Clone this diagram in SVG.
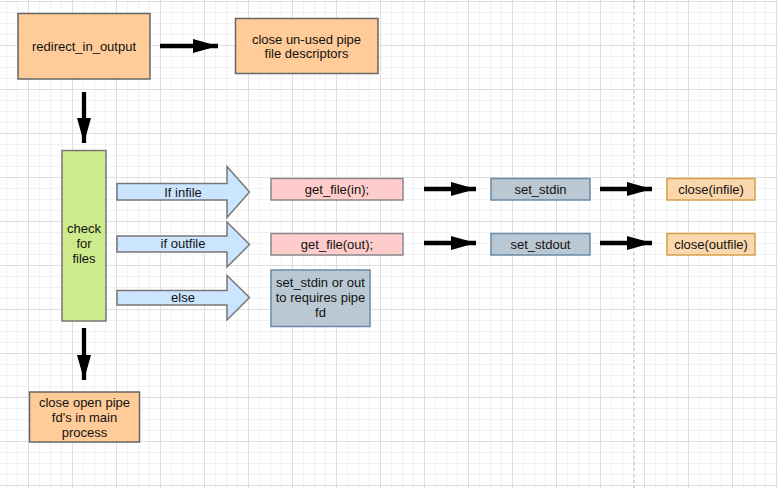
<svg xmlns="http://www.w3.org/2000/svg" width="778" height="488" viewBox="0 0 778 488">
  <defs>
    <!-- background grid: 11px minor cells, 44px major cells -->
    <pattern id="grid" patternUnits="userSpaceOnUse" x="28" y="1" width="44" height="44">
      <path d="M11.5 0V44M22.5 0V44M33.5 0V44M0 11.5H44M0 22.5H44M0 33.5H44" stroke="#f2f2f2" stroke-width="1" fill="none"/>
      <path d="M0.5 0V44M0 0.5H44" stroke="#dedede" stroke-width="1" fill="none"/>
    </pattern>
    <marker id="head" markerUnits="userSpaceOnUse" markerWidth="26" markerHeight="14" refX="25" refY="7" orient="auto">
      <path d="M0 0L25 7L0 14Z" fill="#000"/>
    </marker>
    <style>
      text { font-family: "Liberation Sans", Arial, sans-serif; font-size: 13px; fill: #111; text-anchor: middle; }
      .orange { fill: #ffcc99; stroke: #666; stroke-width: 1.5; }
      .orange2 { fill: #fad7ac; stroke: #d6a04a; stroke-width: 1.5; }
      .green { fill: #cdeb8b; stroke: #777; stroke-width: 1.5; }
      .red { fill: #ffcccc; stroke: #888; stroke-width: 1.5; }
      .slate { fill: #bac8d3; stroke: #6a8aa5; stroke-width: 1.5; }
      .block { fill: #cce5ff; stroke: #777; stroke-width: 1.5; stroke-linejoin: miter; }
      .conn { stroke: #000; stroke-width: 4.3; fill: none; marker-end: url(#head); }
    </style>
  </defs>

  <rect x="0" y="0" width="778" height="488" fill="#fff"/>
  <rect x="0" y="0" width="778" height="488" fill="url(#grid)"/>
  <line x1="634" y1="0" x2="634" y2="488" stroke="#d0d0d0" stroke-width="1.5" stroke-dasharray="3 3"/>

  <!-- connectors -->
  <g id="connectors">
    <path class="conn" d="M160 46H218"/>
    <path class="conn" d="M84 92V143"/>
    <path class="conn" d="M84 328V380"/>
    <path class="conn" d="M424 189H476"/>
    <path class="conn" d="M424 243H476"/>
    <path class="conn" d="M600 189H652"/>
    <path class="conn" d="M600 243H652"/>

    <g id="arrow-infile">
      <path class="block" d="M117 183.5H227V166.5L249.5 192L227 217.5V200H117Z"/>
      <text x="183" y="196.5">If infile</text>
    </g>
    <g id="arrow-outfile">
      <path class="block" d="M117 236H227V222L249.5 244.5L227 267V252H117Z"/>
      <text x="183" y="248">if outfile</text>
    </g>
    <g id="arrow-else">
      <path class="block" d="M117 290.5H227V275.5L249.5 297.5L227 320V305H117Z"/>
      <text x="183" y="301.5">else</text>
    </g>
  </g>

  <g id="redirect">
    <rect class="orange" x="18" y="13.5" width="132" height="65.5"/>
    <text x="84" y="50.5">redirect_in_output</text>
  </g>

  <g id="close-unused">
    <rect class="orange" x="235.5" y="18.5" width="142.5" height="55"/>
    <text x="306.5" y="43.5">close un-used pipe</text>
    <text x="306.5" y="58">file descriptors</text>
  </g>

  <g id="check-files">
    <rect class="green" x="62" y="150.5" width="44" height="170.5"/>
    <text x="84" y="232.5">check</text>
    <text x="84" y="247.5">for</text>
    <text x="84" y="262.5">files</text>
  </g>

  <g id="close-open-pipe">
    <rect class="orange" x="29.5" y="392" width="110" height="50"/>
    <text x="84.5" y="407">close open pipe</text>
    <text x="84.5" y="422">fd's in main</text>
    <text x="84.5" y="437">process</text>
  </g>

  <g id="get-file-in">
    <rect class="red" x="271" y="178.5" width="132" height="21.5"/>
    <text x="337" y="193.5">get_file(in);</text>
  </g>

  <g id="get-file-out">
    <rect class="red" x="271" y="233.5" width="132" height="21.5"/>
    <text x="337" y="248.5">get_file(out);</text>
  </g>

  <g id="pipe-fd">
    <rect class="slate" x="271" y="270" width="99" height="56.5"/>
    <text x="320.5" y="287">set_stdin or out</text>
    <text x="320.5" y="302">to requires pipe</text>
    <text x="320.5" y="317">fd</text>
  </g>

  <g id="set-stdin">
    <rect class="slate" x="491" y="178.5" width="99" height="21.5"/>
    <text x="540.5" y="193.5">set_stdin</text>
  </g>

  <g id="set-stdout">
    <rect class="slate" x="491" y="233.5" width="99" height="21.5"/>
    <text x="540.5" y="248.5">set_stdout</text>
  </g>

  <g id="close-infile">
    <rect class="orange2" x="667" y="178.5" width="88" height="21.5"/>
    <text x="711" y="193.5">close(infile)</text>
  </g>

  <g id="close-outfile">
    <rect class="orange2" x="667" y="233.5" width="88" height="21.5"/>
    <text x="711" y="248.5">close(outfile)</text>
  </g>
</svg>
